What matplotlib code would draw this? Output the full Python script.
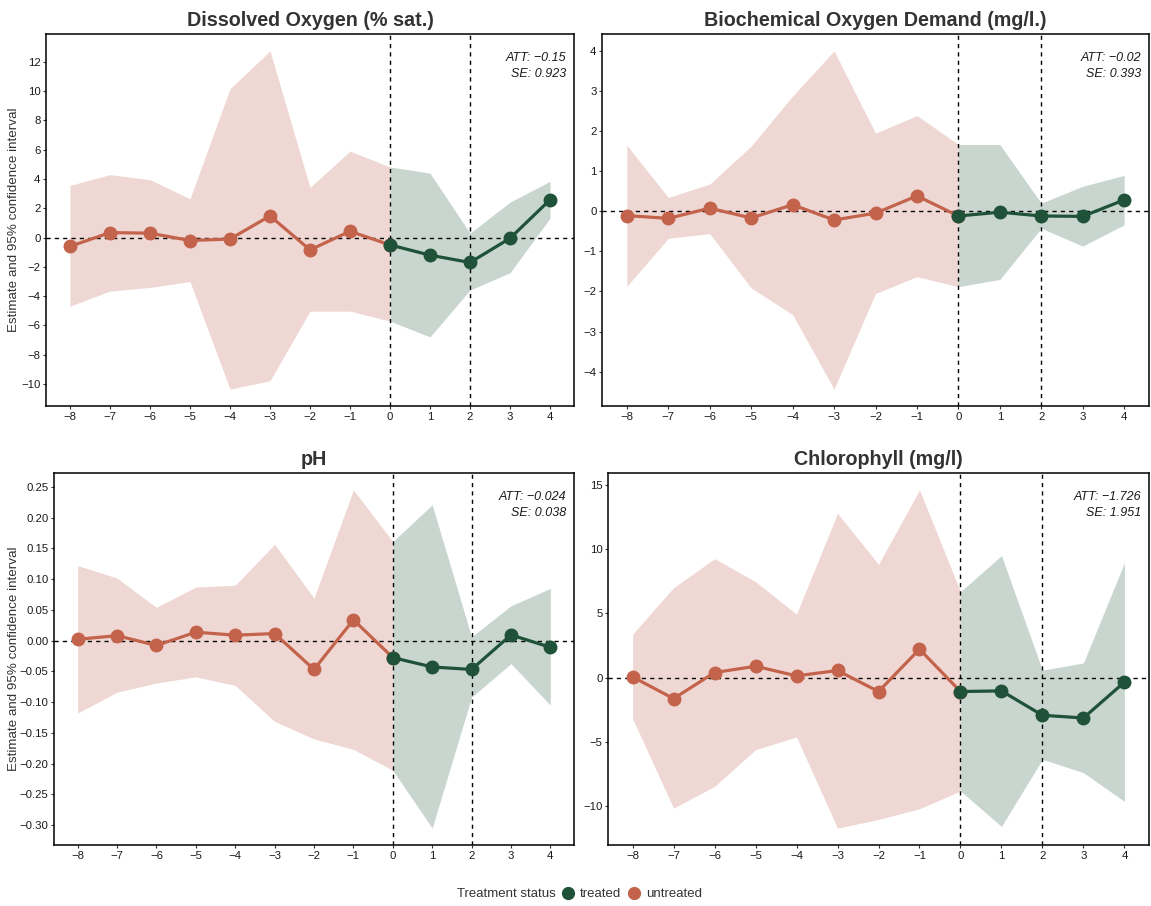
import matplotlib
matplotlib.use('Agg')
import matplotlib.pyplot as plt
from matplotlib.lines import Line2D
import numpy as np

plt.rcParams['font.family'] = ['Liberation Sans', 'DejaVu Sans']

# periods relative to treatment
periodos = [-8, -7, -6, -5, -4, -3, -2, -1, 0, 1, 2, 3, 4]

titulos = ['Dissolved Oxygen (% sat.)', 'Biochemical Oxygen Demand (mg/l.)',
           'pH', 'Chlorophyll (mg/l)']
att_textos = ['ATT: \u22120.15', 'ATT: \u22120.02', 'ATT: \u22120.024', 'ATT: \u22121.726']
se_textos = ['SE: 0.923', 'SE: 0.393', 'SE: 0.038', 'SE: 1.951']

# Dissolved oxygen
do_est = [-0.6, 0.34, 0.3, -0.2, -0.1, 1.48, -0.84, 0.43, -0.5, -1.2, -1.7, -0.05, 2.58]
do_alto = [3.56, 4.3, 3.95, 2.65, 10.16, 12.74, 3.42, 5.9, 4.82, 4.4, 0.3, 2.42, 3.84]
do_bajo = [-4.68, -3.65, -3.4, -3.0, -10.34, -9.77, -5.02, -5.02, -5.7, -6.78, -3.58, -2.4, 1.32]

# BOD
bod_est = [-0.11, -0.18, 0.075, -0.17, 0.16, -0.22, -0.05, 0.38, -0.12, -0.025, -0.12, -0.13, 0.28]
bod_alto = [1.64, 0.34, 0.675, 1.62, 2.87, 3.99, 1.94, 2.38, 1.66, 1.66, 0.2, 0.62, 0.89]
bod_bajo = [-1.87, -0.675, -0.56, -1.91, -2.575, -4.43, -2.05, -1.63, -1.88, -1.7, -0.425, -0.87, -0.34]

# pH
ph_est = [0.002, 0.008, -0.008, 0.0136, 0.0087, 0.0114, -0.047, 0.0337, -0.0277, -0.043, -0.047, 0.0092, -0.011]
ph_alto = [0.122, 0.1016, 0.054, 0.087, 0.090, 0.1565, 0.069, 0.245, 0.161, 0.2207, 0.006, 0.0565, 0.0848]
ph_bajo = [-0.118, -0.084, -0.069, -0.059, -0.073, -0.1315, -0.160, -0.177, -0.211, -0.305, -0.092, -0.0375, -0.105]

# Chlorophyll
chl_est = [0.05, -1.64, 0.39, 0.88, 0.13, 0.55, -1.09, 2.21, -1.09, -1.04, -2.94, -3.15, -0.36]
chl_alto = [3.38, 7.0, 9.26, 7.47, 4.94, 12.8, 8.82, 14.62, 6.69, 9.5, 0.57, 1.14, 8.95]
chl_bajo = [-3.2, -10.17, -8.48, -5.62, -4.63, -11.73, -11.06, -10.22, -8.84, -11.6, -6.37, -7.41, -9.65]

estimaciones = [do_est, bod_est, ph_est, chl_est]
altos = [do_alto, bod_alto, ph_alto, chl_alto]
bajos = [do_bajo, bod_bajo, ph_bajo, chl_bajo]

yticks = [np.arange(-10, 13, 2), np.arange(-4, 5, 1),
          np.round(np.arange(-0.30, 0.26, 0.05), 2), np.arange(-10, 16, 5)]
yfmt = ['{:.0f}', '{:.0f}', '{:.2f}', '{:.0f}']

rojo = '#c4634c'
verde = '#1f5239'
rosa = '#efd7d3'
verde_claro = '#c8d6cf'

W, H = 1151, 906
fig = plt.figure(figsize=(W / 100, H / 100), dpi=100)
cajas = [(46, 34, 574, 406), (602, 34, 1149, 406),
         (54, 473, 574, 845), (608, 473, 1149, 845)]

x = np.array(periodos)
for i in range(4):
    l, t, r, b = cajas[i]
    ax = fig.add_axes([l / W, 1 - b / H, (r - l) / W, (b - t) / H])
    est = np.array(estimaciones[i])
    alto = np.array(altos[i])
    bajo = np.array(bajos[i])
    pre = x <= 0
    post = x >= 0
    ax.fill_between(x[pre], bajo[pre], alto[pre], color=rosa, lw=0, zorder=1)
    ax.fill_between(x[post], bajo[post], alto[post], color=verde_claro, lw=0, zorder=1)
    ax.axhline(0, color='black', ls=(0, (3, 3)), lw=1, zorder=2)
    ax.axvline(0, color='black', ls=(0, (3, 3)), lw=1, zorder=2)
    ax.axvline(2, color='black', ls=(0, (3, 3)), lw=1, zorder=2)
    ax.plot(x[pre], est[pre], color=rojo, lw=2.3, marker='o', ms=9, zorder=3)
    ax.plot(x[post], est[post], color=verde, lw=2.3, marker='o', ms=9, zorder=4)

    ymin = min(bajo.min(), est.min())
    ymax = max(alto.max(), est.max())
    pad = (ymax - ymin) * 0.05
    ax.set_ylim(ymin - pad, ymax + pad)
    ax.set_xlim(-8.6, 4.6)
    ax.set_xticks(periodos)
    ax.set_xticklabels([str(p).replace('-', '\u2212') for p in periodos])
    ax.set_yticks(yticks[i])
    ax.set_yticklabels([yfmt[i].format(v + 0.0).replace('-0.00', '0.00').replace('-', '\u2212')
                        for v in yticks[i]])
    ax.tick_params(axis='both', direction='out', length=2.5, width=0.8, color='#333333',
                   labelsize=8.2, labelcolor='#1a1a1a', pad=1.5)
    for s in ax.spines.values():
        s.set_linewidth(1.1)
        s.set_color('black')

    ax.set_title(titulos[i], fontsize=14.2, fontweight='bold', color='#333333', pad=6)
    ax.text(0.985, 1 - 24 / 372, att_textos[i], transform=ax.transAxes, ha='right', va='center',
            fontsize=9, style='italic', color='#1a1a1a')
    ax.text(0.985, 1 - 40 / 372, se_textos[i], transform=ax.transAxes, ha='right', va='center',
            fontsize=9, style='italic', color='#1a1a1a')
    if i % 2 == 0:
        ax.set_ylabel('Estimate and 95% confidence interval', fontsize=9.6, color='#333333')
        ax.yaxis.set_label_coords((20 - l) / (r - l), 0.5)

# leyenda abajo: titulo a la izquierda
fig.text(556 / W, 1 - 894 / H, 'Treatment status', ha='right', va='center',
         fontsize=9.5, color='#333333')
manejadores = [Line2D([], [], ls='', marker='o', ms=8.5, color=verde),
               Line2D([], [], ls='', marker='o', ms=8.5, color=rojo)]
fig.legend(manejadores, ['treated', 'untreated'], loc='center left',
           bbox_to_anchor=(558 / W, 1 - 894 / H), ncol=2, frameon=False,
           fontsize=9.5, handletextpad=0.15, columnspacing=0.25, borderpad=0,
           borderaxespad=0, handlelength=1.5, labelcolor='#333333')

fig.savefig('out.png', dpi=100)
